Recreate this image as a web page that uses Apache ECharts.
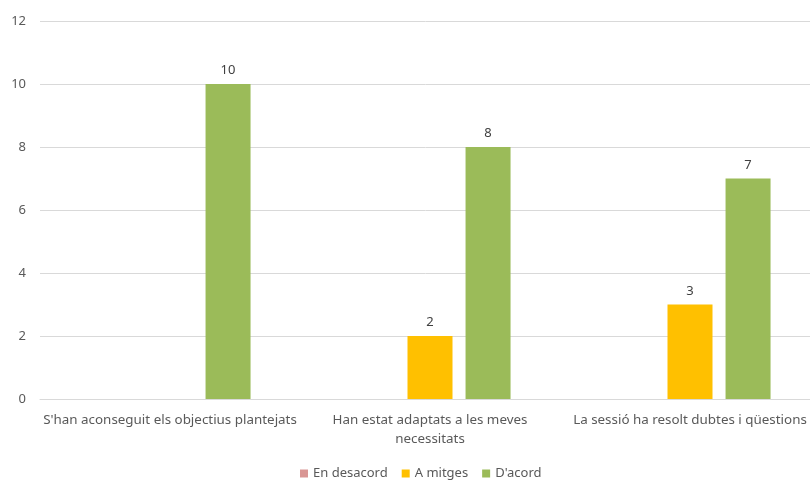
<!DOCTYPE html>
<html>
<head>
<meta charset="utf-8">
<script src="https://cdn.jsdelivr.net/npm/echarts@6/dist/echarts.min.js"></script>
<style>html,body{margin:0;padding:0;background:#fff}#c{width:810px;height:480px}</style>
</head>
<body>
<div id="c"></div>
<script>
const categories = ["S'han aconseguit els objectius plantejats", "Han estat adaptats a les meves\nnecessitats", "La sessió ha resolt dubtes i qüestions"];
const desacord = [0, 0, 0];
const mitges = [0, 2, 3];
const acord = [10, 8, 7];
const yTicks = [0, 2, 4, 6, 8, 10, 12];

const font = "'Noto Sans', sans-serif";
const chart = echarts.init(document.getElementById('c'), null, {renderer: 'canvas'});
const lbl = {
  show: true, position: 'top', distance: 7, color: '#404040', fontSize: 13, fontFamily: font,
  formatter: p => (p.value ? p.value : '')
};
chart.setOption({
  animation: false,
  textStyle: {fontFamily: font},
  grid: {left: 40, top: 21, right: -10, bottom: 81, containLabel: false, outerBoundsMode: 'none'},
  legend: {
    top: 462, left: 295, itemWidth: 8, itemHeight: 8, itemGap: 14, icon: 'rect',
    textStyle: {color: '#595959', fontSize: 13, fontFamily: font},
    data: ['En desacord', 'A mitges', "D'acord"]
  },
  xAxis: {
    type: 'category', data: categories,
    axisLine: {lineStyle: {color: '#d9d9d9'}},
    axisTick: {show: false},
    axisLabel: {color: '#595959', fontSize: 13.4, fontFamily: font, margin: 12, interval: 0, lineHeight: 19}
  },
  yAxis: {
    type: 'value', min: yTicks[0], max: yTicks[yTicks.length - 1], interval: 2,
    axisLine: {show: false}, axisTick: {show: false},
    splitLine: {lineStyle: {color: '#d9d9d9'}},
    axisLabel: {color: '#595959', fontSize: 13, fontFamily: font, margin: 14}
  },
  series: [
    {name: 'En desacord', type: 'bar', data: desacord, barWidth: 45, barGap: '29%', itemStyle: {color: '#D99694'}, label: lbl},
    {name: 'A mitges', type: 'bar', data: mitges, barWidth: 45, barGap: '29%', itemStyle: {color: '#FFC000'}, label: lbl},
    {name: "D'acord", type: 'bar', data: acord, barWidth: 45, barGap: '29%', itemStyle: {color: '#9BBB59'}, label: lbl}
  ]
});
</script>
</body>
</html>
